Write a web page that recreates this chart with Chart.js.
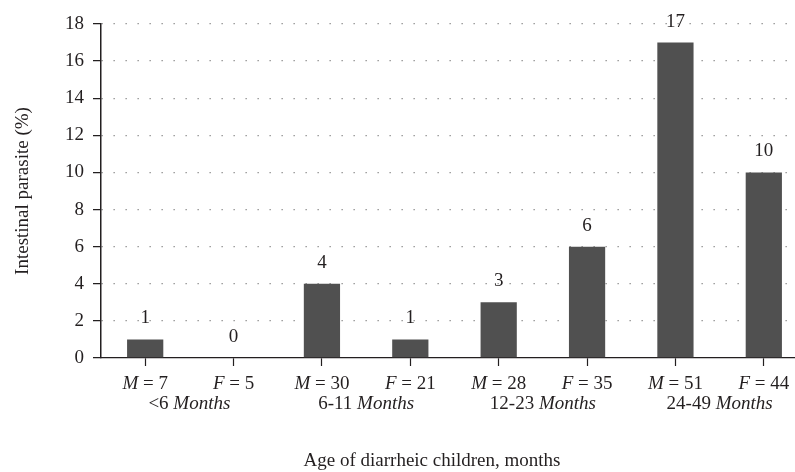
<!DOCTYPE html>
<html>
<head>
<meta charset="utf-8">
<script src="https://cdn.jsdelivr.net/npm/chart.js@4.4.1/dist/chart.umd.min.js"></script>
<style>
  html, body { margin: 0; padding: 0; background: #fff; overflow: hidden; }
  #wrap { width: 812px; height: 472px; }
</style>
</head>
<body>
<div id="wrap"><canvas id="c"></canvas></div>
<script>
// data
const sexes = ['M', 'F', 'M', 'F', 'M', 'F', 'M', 'F'];
const sampleSizes = [7, 5, 30, 21, 28, 35, 51, 44];
const ageGroups = ['<6', '6-11', '12-23', '24-49'];
const parasitePct = [1, 0, 4, 1, 3, 6, 17, 10];
const yTicks = [0, 2, 4, 6, 8, 10, 12, 14, 16, 18];

const categories = sexes.map((s, i) => s + ' = ' + sampleSizes[i]);

const SERIF = '"Liberation Serif", "DejaVu Serif", serif';
const FS = 19;
const INK = '#231f20';

// draws a line of text made of normal/italic runs, centred on x
function drawRuns(ctx, runs, x, y) {
    let total = 0;
    runs.forEach(r => {
        ctx.font = (r.it ? 'italic ' : '') + FS + 'px ' + SERIF;
        r.w = ctx.measureText(r.t).width;
        total += r.w;
    });
    let cx = x - total / 2;
    runs.forEach(r => {
        ctx.font = (r.it ? 'italic ' : '') + FS + 'px ' + SERIF;
        ctx.fillText(r.t, cx, y);
        cx += r.w;
    });
}

const extraText = {
    id: 'extraText',
    afterDatasetsDraw(chart) {
        const ctx = chart.ctx;
        const xs = chart.scales.x, ys = chart.scales.y;
        ctx.save();
        ctx.fillStyle = INK;
        ctx.textAlign = 'left';
        ctx.textBaseline = 'middle';

        // value labels above bars
        parasitePct.forEach((v, i) => {
            const x = xs.getPixelForValue(i);
            const y = ys.getPixelForValue(v) - 21;
            drawRuns(ctx, [{ t: String(v) }], x, y);
        });

        // category labels: "M = 7"
        sexes.forEach((s, i) => {
            const x = xs.getPixelForValue(i);
            drawRuns(ctx, [{ t: s, it: true }, { t: ' = ' + sampleSizes[i] }], x, 384);
        });

        // age group labels under each pair
        ageGroups.forEach((g, k) => {
            const x = (xs.getPixelForValue(2 * k) + xs.getPixelForValue(2 * k + 1)) / 2;
            drawRuns(ctx, [{ t: g + ' ' }, { t: 'Months', it: true }], x, 404);
        });

        // axis title
        drawRuns(ctx, [{ t: 'Age of diarrheic children, months' }], 432, 461);
        ctx.restore();
    }
};

new Chart(document.getElementById('c'), {
    type: 'bar',
    data: {
        labels: categories,
        datasets: [{
            data: parasitePct,
            backgroundColor: '#505050',
            borderWidth: 0,
            barPercentage: 0.5,
            categoryPercentage: 0.82
        }]
    },
    options: {
        responsive: true,
        maintainAspectRatio: false,
        animation: false,
        layout: { padding: { top: 24, right: 4, left: 12, bottom: 0 } },
        plugins: { legend: { display: false }, tooltip: { enabled: false } },
        scales: {
            x: {
                offset: true,
                grid: { display: true, offset: false, drawOnChartArea: false, drawTicks: true, tickLength: 8, tickColor: INK, tickWidth: 1.2 },
                border: { display: true, color: INK, width: 1.3 },
                ticks: { display: false },
                afterFit(scale) { scale.height = 114; }
            },
            y: {
                min: 0,
                max: 18,
                afterBuildTicks(scale) { scale.ticks = yTicks.map(v => ({ value: v })); },
                grid: {
                    color: (c) => c.tick && c.tick.value === 0 ? 'rgba(0,0,0,0)' : '#8a8a8a',
                    lineWidth: 1.3,
                    tickBorderDash: [1, 0],
                    tickColor: INK,
                    tickWidth: 1.2,
                    tickLength: 8
                },
                border: { display: true, color: INK, width: 1.5, dash: [1.3, 10.7] },
                ticks: { color: INK, font: { family: SERIF, size: FS }, padding: 9 },
                title: { display: true, text: 'Intestinal parasite (%)', color: INK, font: { family: SERIF, size: FS }, padding: { top: 0, bottom: 4 } },
                afterFit(scale) { scale.width = 89; }
            }
        }
    },
    plugins: [extraText]
});
</script>
</body>
</html>
